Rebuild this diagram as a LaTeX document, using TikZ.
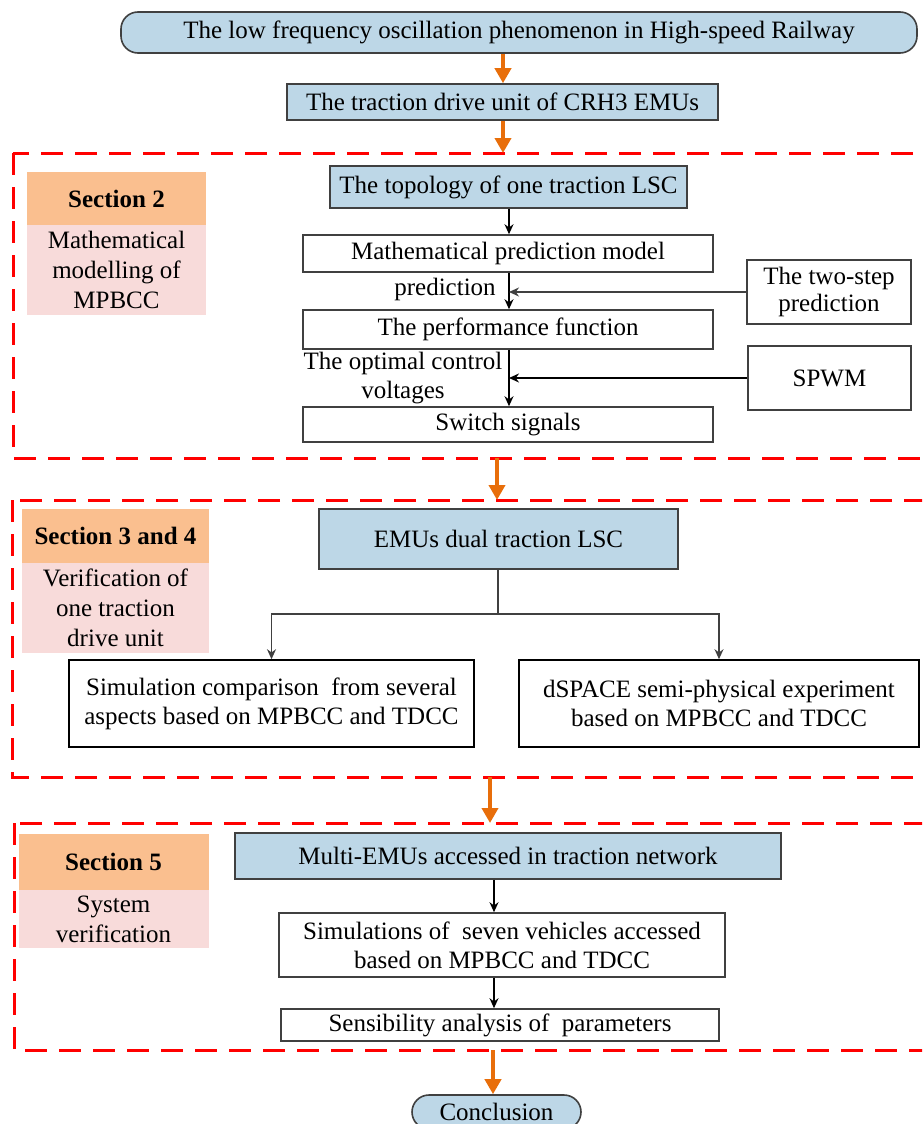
\documentclass[tikz,border=0pt]{standalone}
\usepackage{fontspec}
\setmainfont{Liberation Serif}
\usetikzlibrary{arrows.meta}
\definecolor{bluefill}{RGB}{189,215,231}
\definecolor{orangefill}{RGB}{250,191,143}
\definecolor{pinkfill}{RGB}{248,219,218}
\definecolor{bordergray}{RGB}{64,64,64}
\definecolor{arroworange}{RGB}{232,110,10}
\begin{document}
\begin{tikzpicture}[x=1pt,y=-1pt,
  box/.style={draw=bordergray, line width=1.6pt, fill=white, inner sep=0pt, align=center,
    font=\fontsize{25}{29}\selectfont},
  bluebox/.style={box, fill=bluefill},
  pill/.style={bluebox, rounded corners=17pt},
  secA/.style={fill=orangefill, inner sep=0pt, align=center, font=\bfseries\fontsize{25}{29}\selectfont},
  secB/.style={fill=pinkfill, inner sep=0pt, align=center, font=\fontsize{25}{30}\selectfont},
  lbl/.style={inner sep=0pt, align=center, font=\fontsize{25}{29}\selectfont},
  dashbox/.style={draw=red, line width=3pt, dash pattern=on 22pt off 12pt},
  oarrow/.style={draw=arroworange, line width=4pt, -{Triangle[length=15pt,width=16pt]}},
  barrow/.style={draw=black, line width=1.5pt, -{Stealth[length=10pt,width=9pt]}},
  gline/.style={draw=bordergray, line width=1.5pt},
  garrow/.style={gline, -{Stealth[length=10pt,width=9pt]}}]
\clip (0,0) rectangle (922,1124);
\fill[white] (0,0) rectangle (922,1124);

% dashed section frames
\draw[dashbox] (13,153) rectangle (940,458);
\draw[dashbox] (12,500) rectangle (940,777);
\draw[dashbox] (14,823) rectangle (940,1050);

% top chain
\node[pill, minimum width=796pt, minimum height=41pt] (top) at (519,32.5)
  {The low frequency oscillation phenomenon in High-speed Railway};
\node[bluebox, minimum width=431pt, minimum height=36pt] (drive) at (502.5,102)
  {The traction drive unit of CRH3 EMUs};
\coordinate (o1) at (503,0);
\draw[oarrow] (top.south -| o1) -- (drive.north -| o1);
\coordinate (f1top) at (503,153);
\draw[oarrow] (drive.south -| o1) -- (f1top);

% Section 2
\node[secA, minimum width=179pt, minimum height=53pt] (s2a) at (116.5,198.5) {Section 2};
\node[secB, minimum width=179pt, minimum height=90pt] (s2b) at (116.5,270)
  {Mathematical\\modelling of\\MPBCC};
\node[bluebox, minimum width=357pt, minimum height=42pt] (topo) at (508.5,187)
  {The topology of one traction LSC};
\node[box, minimum width=410pt, minimum height=37pt] (mpm) at (508,253.5)
  {Mathematical prediction model};
\node[box, minimum width=410pt, minimum height=39pt] (perf) at (508,329.5)
  {The performance function};
\node[box, minimum width=410pt, minimum height=35pt] (sw) at (508,424.5)
  {Switch signals};
\node[box, minimum width=164pt, minimum height=64pt, font=\fontsize{25}{27}\selectfont] (two) at (829,292)
  {The two-step\\prediction};
\node[box, minimum width=163pt, minimum height=64pt] (spwm) at (829.5,378) {SPWM};
\coordinate (c2) at (509,0);
\draw[barrow] (topo.south -| c2) -- (mpm.north -| c2);
\draw[barrow] (mpm.south -| c2) -- (perf.north -| c2);
\draw[barrow] (perf.south -| c2) -- (sw.north -| c2);
\draw[barrow, line width=1.2pt, draw=bordergray] (two.west) -- (two.west -| c2);
\draw[barrow] (spwm.west) -- (spwm.west -| c2);
\node[lbl] (lpred) at (445,289) {prediction};
\node[lbl] (lopt) at (403,378) {The optimal control\\voltages};

% arrow to section 3 and 4
\coordinate (o3a) at (497,458);
\coordinate (o3b) at (497,500);
\draw[oarrow] (o3a) -- (o3b);

% Section 3 and 4
\node[secA, minimum width=187pt, minimum height=54pt] (s3a) at (115.5,536) {Section 3 and 4};
\node[secB, minimum width=187pt, minimum height=90pt] (s3b) at (115.5,608)
  {Verification of\\one traction\\drive unit};
\node[bluebox, minimum width=359pt, minimum height=60pt] (dual) at (498.5,539)
  {EMUs dual traction LSC};
\node[box, draw=black, minimum width=405pt, minimum height=87pt] (simc) at (271.5,703.5)
  {Simulation comparison~ from several\\aspects based on MPBCC and TDCC};
\node[box, draw=black, minimum width=400pt, minimum height=87pt] (dsp) at (719,703.5)
  {dSPACE semi-physical experiment\\based on MPBCC and TDCC};
\coordinate (split) at (498,614);
\draw[gline] (dual.south -| split) -- (split);
\draw[garrow] (split) -| (simc.north);
\draw[garrow] (split) -| (dsp.north);

% arrow to section 5
\coordinate (o4a) at (490,777);
\coordinate (o4b) at (490,823);
\draw[oarrow] (o4a) -- (o4b);

% Section 5
\node[secA, minimum width=190pt, minimum height=56pt] (s5a) at (113.5,862) {Section 5};
\node[secB, minimum width=190pt, minimum height=58pt] (s5b) at (113.5,919)
  {System\\verification};
\node[bluebox, minimum width=546pt, minimum height=46pt] (multi) at (508,856)
  {Multi-EMUs accessed in traction network};
\node[box, minimum width=446pt, minimum height=64pt] (seven) at (502,945)
  {Simulations of~ seven vehicles accessed\\based on MPBCC and TDCC};
\node[box, minimum width=438pt, minimum height=32pt] (sens) at (500,1025)
  {Sensibility analysis of~ parameters};
\coordinate (c5) at (494,0);
\draw[barrow] (multi.south -| c5) -- (seven.north -| c5);
\draw[barrow] (seven.south -| c5) -- (sens.north -| c5);

% conclusion
\node[pill, minimum width=169pt, minimum height=34pt] (concl) at (496.5,1112) {Conclusion};
\coordinate (o5a) at (493,1050);
\draw[oarrow] (o5a) -- (concl.north -| o5a);
\end{tikzpicture}
\end{document}
